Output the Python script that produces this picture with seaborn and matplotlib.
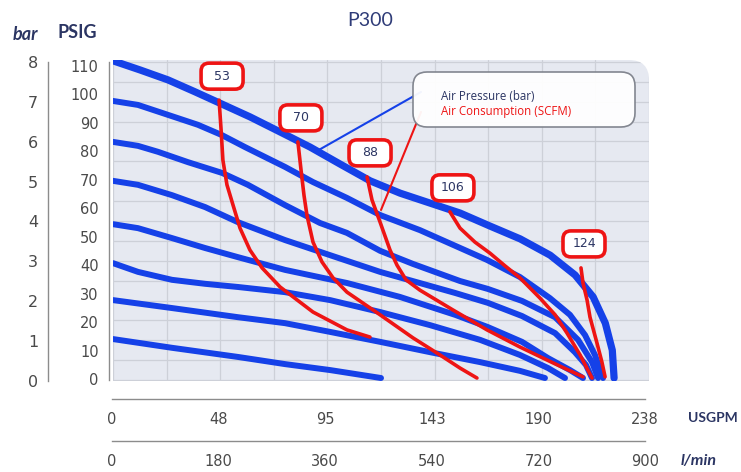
import matplotlib
matplotlib.use("Agg")
import numpy as np
import pandas as pd
import matplotlib.pyplot as plt
import seaborn as sns
from matplotlib.patches import FancyBboxPatch, PathPatch
from matplotlib.path import Path
from matplotlib.lines import Line2D
from matplotlib.transforms import IdentityTransform

# ---------------------------------------------------------------
# Pump curves: flow in USGPM, discharge pressure in bar
# ---------------------------------------------------------------
flow_8bar = [0, 12.0, 24.4, 36.4, 48.4, 60.8, 74.2, 87.5, 100.9, 114.2, 127.5,
             140.8, 154.1, 167.5, 180.8, 194.1, 205.2, 213.2, 218.6, 221.7, 222.5]
bar_8bar = [8.03, 7.80, 7.55, 7.25, 6.94, 6.62, 6.24, 5.86, 5.43, 5.01, 4.70,
            4.45, 4.20, 3.87, 3.55, 3.14, 2.64, 2.09, 1.43, 0.75, 0.05]

flow_7bar = [0, 11.1, 24.4, 37.7, 48.4, 58.6, 76.4, 88.8, 103.9, 118.6, 136.3,
             151.0, 166.1, 180.7, 194.0, 202.9, 209.6, 214.0, 217.6]
bar_7bar = [7.02, 6.92, 6.67, 6.42, 6.16, 5.86, 5.36, 4.98, 4.58, 4.15, 3.77,
            3.40, 3.02, 2.59, 2.06, 1.64, 1.13, 0.63, 0.05]

flow_6bar = [0, 11.1, 20.0, 33.3, 48.4, 59.9, 76.4, 91.9, 103.9, 118.6, 133.2,
             154.1, 166.5, 181.6, 196.3, 206.5, 212.7, 215.4]
bar_6bar = [5.99, 5.89, 5.74, 5.48, 5.21, 4.91, 4.40, 3.95, 3.70, 3.25, 2.92,
            2.49, 2.29, 1.99, 1.58, 1.01, 0.45, 0.05]

flow_5bar = [0, 11.1, 26.2, 40.9, 55.5, 76.4, 96.4, 118.6, 151.9, 166.5, 181.6,
             196.3, 205.1, 210.0, 212.7]
bar_5bar = [5.01, 4.91, 4.65, 4.35, 3.97, 3.52, 3.14, 2.72, 2.19, 1.94, 1.61,
            1.18, 0.70, 0.38, 0.05]

flow_4bar = [0, 11.1, 26.2, 40.9, 55.5, 76.4, 103.9, 127.4, 151.9, 166.5, 181.6,
             193.2, 202.9, 208.7]
bar_4bar = [3.92, 3.82, 3.57, 3.32, 3.09, 2.77, 2.44, 2.09, 1.64, 1.33, 0.96,
            0.55, 0.25, 0.05]

flow_3bar = [0, 11.1, 26.2, 40.9, 55.5, 76.4, 96.4, 118.6, 140.8, 163.0, 180.7,
             193.2, 200.7]
bar_3bar = [2.94, 2.72, 2.52, 2.42, 2.34, 2.21, 2.01, 1.71, 1.38, 1.01, 0.63,
            0.30, 0.05]

flow_2bar = [0, 26.2, 55.5, 76.4, 96.4, 118.6, 140.8, 163.0, 180.7, 191.8]
bar_2bar = [2.01, 1.81, 1.58, 1.43, 1.21, 0.96, 0.70, 0.45, 0.23, 0.05]

flow_1bar = [0, 26.2, 55.5, 76.4, 96.4, 119.0]
bar_1bar = [1.03, 0.81, 0.58, 0.40, 0.25, 0.05]

# Air consumption curves (SCFM)
flow_53 = [47.1, 48.0, 48.8, 50.6, 53.3, 56.4, 60.8, 66.2, 74.2, 88.8, 103.9, 114.1]
bar_53 = [7.04, 6.29, 5.53, 4.91, 4.40, 3.82, 3.27, 2.82, 2.34, 1.71, 1.26, 1.08]

flow_70 = [82.1, 83.5, 84.8, 86.1, 88.8, 92.8, 97.7, 103.9, 118.6, 133.2, 145.2,
           154.1, 161.6]
bar_70 = [5.99, 5.28, 4.65, 4.15, 3.47, 2.97, 2.57, 2.21, 1.64, 1.06, 0.63,
          0.30, 0.05]

flow_88 = [112.8, 115.0, 118.6, 123.0, 126.1, 130.1, 136.3, 151.0, 166.1, 180.7,
           195.4, 208.7]
bar_88 = [5.11, 4.53, 3.97, 3.27, 2.89, 2.52, 2.26, 1.76, 1.26, 0.83, 0.43, 0.08]

flow_106 = [149.6, 154.1, 160.7, 167.4, 174.1, 180.7, 189.6, 196.3, 201.6,
            207.4, 212.7]
bar_106 = [4.23, 3.82, 3.47, 3.19, 2.87, 2.57, 2.06, 1.64, 1.18, 0.63, 0.05]

flow_124 = [207.8, 208.7, 210.5, 211.8, 214.9, 217.1, 218.5]
bar_124 = [2.82, 2.44, 2.01, 1.58, 0.93, 0.45, 0.08]

# Axis scales
bar_ticks = [0, 1, 2, 3, 4, 5, 6, 7, 8]
psig_ticks = [0, 10, 20, 30, 40, 50, 60, 70, 80, 90, 100, 110]
gpm_ticks = [0, 47.6, 95.2, 142.8, 190.4, 238]
gpm_labels = ["0", "48", "95", "143", "190", "238"]
lpm_ticks = [0, 180, 360, 540, 720, 900]
lpm_labels = ["0", "180", "360", "540", "720", "900"]

pressure_series = {
    8: (flow_8bar, bar_8bar), 7: (flow_7bar, bar_7bar), 6: (flow_6bar, bar_6bar),
    5: (flow_5bar, bar_5bar), 4: (flow_4bar, bar_4bar), 3: (flow_3bar, bar_3bar),
    2: (flow_2bar, bar_2bar), 1: (flow_1bar, bar_1bar),
}
air_series = {
    53: (flow_53, bar_53), 70: (flow_70, bar_70), 88: (flow_88, bar_88),
    106: (flow_106, bar_106), 124: (flow_124, bar_124),
}

df_p = pd.DataFrame(
    [{"curve": k, "flow": q, "bar": p}
     for k, (qs, ps) in pressure_series.items() for q, p in zip(qs, ps)]
)
df_a = pd.DataFrame(
    [{"scfm": k, "flow": q, "bar": p}
     for k, (qs, ps) in air_series.items() for q, p in zip(qs, ps)]
)

# ---------------------------------------------------------------
# Style
# ---------------------------------------------------------------
sns.set_theme(style="white")
plt.rcParams["font.family"] = ["DejaVu Sans"]

BLUE = "#1541e8"
RED = "#ee1414"
NAVY = "#2b3563"
TICK_GRAY = "#4a4a4a"
SPINE_GRAY = "#8c8c8c"
PANEL = "#e6e9f1"
GRID = "#cdd0d8"

W, H = 741, 472
fig = plt.figure(figsize=(W / 100, H / 100), dpi=100)
fig.patch.set_facecolor("white")


def frame(left, top, right, bottom):
    """Axes rectangle from pixel edges measured from the top-left corner."""
    return [left / W, 1 - bottom / H, (right - left) / W, (bottom - top) / H]


# ---------------------------------------------------------------
# Main chart panel
# ---------------------------------------------------------------
ax = fig.add_axes(frame(113, 60, 649, 381))
ax.patch.set_visible(False)
for s in ax.spines.values():
    s.set_visible(False)

rx, ry = 20 / 536, 20 / 321
panel_path = Path(
    [(0, 0), (1, 0), (1, 1 - ry), (1, 1), (1 - rx, 1), (0, 1), (0, 0)],
    [Path.MOVETO, Path.LINETO, Path.LINETO, Path.CURVE3, Path.CURVE3,
     Path.LINETO, Path.CLOSEPOLY],
)
panel = PathPatch(panel_path, transform=ax.transAxes, fc=PANEL, ec="none", zorder=0)
ax.add_patch(panel)

line_kw = dict(estimator=None, sort=False, legend=False, ax=ax,
               solid_capstyle="round", solid_joinstyle="round")
sns.lineplot(data=df_p[df_p.curve != 8], x="flow", y="bar", units="curve",
             color=BLUE, linewidth=4.3, zorder=3, **line_kw)
sns.lineplot(data=df_p[df_p.curve == 8], x="flow", y="bar", units="curve",
             color=BLUE, linewidth=5.2, zorder=3, **line_kw)
sns.lineplot(data=df_a, x="flow", y="bar", units="scfm",
             color=RED, linewidth=2.6, zorder=4, **line_kw)

ax.set_xlim(0, 238)
ax.set_ylim(-0.025, 8.05)
ax.set_xticks(np.arange(0, 239, 23.8))
ax.set_yticks(np.arange(0, 8.01, 0.5))
ax.tick_params(length=0, labelbottom=False, labelleft=False)
ax.set_xlabel("")
ax.set_ylabel("")
ax.set_axisbelow(True)
ax.grid(True, color=GRID, linewidth=0.9)
for gl in ax.get_xgridlines() + ax.get_ygridlines():
    gl.set_clip_path(panel)

# Consumption value tags above each red curve
for scfm, (qs, ps) in air_series.items():
    dx, dy = ax.transData.transform((qs[0], ps[0]))
    cx, cy = dx + 3, dy + 24
    tag = FancyBboxPatch((cx - 21, cy - 13), 42, 26,
                         boxstyle="round,pad=0,rounding_size=8",
                         transform=IdentityTransform(), fc="white", ec=RED,
                         lw=2.6, zorder=5)
    fig.add_artist(tag)
    fig.text(cx, cy, str(scfm), transform=IdentityTransform(), ha="center",
             va="center", color=NAVY, fontsize=9, zorder=6)

# Legend box with pointer lines
leg = FancyBboxPatch((413, H - 127), 222, 55,
                     boxstyle="round,pad=0,rounding_size=14",
                     transform=IdentityTransform(), fc="white", ec="#7d818b",
                     lw=1.2, alpha=0.95, zorder=5)
fig.add_artist(leg)
fig.add_artist(Line2D([421, 317], [H - 92, H - 151], transform=IdentityTransform(),
                      color=BLUE, lw=1.5, zorder=4))
fig.add_artist(Line2D([421, 381], [H - 112, H - 210], transform=IdentityTransform(),
                      color=RED, lw=1.5, zorder=4))
fig.text(441, H - 96, "Air Pressure (bar)", transform=IdentityTransform(),
         ha="left", va="center", color=NAVY, fontsize=8.3,
         family=["Open Sans", "DejaVu Sans"], zorder=6)
fig.text(441, H - 111, "Air Consumption (SCFM)", transform=IdentityTransform(),
         ha="left", va="center", color=RED, fontsize=8.3,
         family=["Open Sans", "DejaVu Sans"], zorder=6)


def only_spine(a, side):
    a.patch.set_visible(False)
    for name, s in a.spines.items():
        s.set_visible(name == side)
        s.set_color(SPINE_GRAY)
        s.set_linewidth(1.0)


# ---------------------------------------------------------------
# Left scales: bar and PSIG
# ---------------------------------------------------------------
ax_bar = fig.add_axes(frame(48, 62.3, 49, 380.7))
only_spine(ax_bar, "left")
ax_bar.set_ylim(0, 8)
ax_bar.set_yticks(bar_ticks)
ax_bar.set_xticks([])
ax_bar.tick_params(axis="y", direction="out", length=4, width=1,
                   color=SPINE_GRAY, labelsize=11.5, labelcolor=TICK_GRAY, pad=3)

ax_psi = fig.add_axes(frame(109, 62, 110, 380))
only_spine(ax_psi, "left")
ax_psi.set_ylim(-0.35, 111.3)
ax_psi.set_yticks(psig_ticks)
ax_psi.set_xticks([])
ax_psi.tick_params(axis="y", direction="out", length=5.5, width=1,
                   color=SPINE_GRAY, labelsize=10.5, labelcolor=TICK_GRAY, pad=2)

fig.text(25, H - 34, "bar", ha="center", va="center", color=NAVY,
         fontsize=13, fontweight="bold", fontstyle="italic",
         family=["Lato", "DejaVu Sans"], transform=IdentityTransform())
fig.text(77, H - 33, "PSIG", ha="center", va="center", color=NAVY,
         fontsize=13, fontweight="bold", family=["Lato", "DejaVu Sans"],
         transform=IdentityTransform())

# ---------------------------------------------------------------
# Bottom scales: USGPM and l/min
# ---------------------------------------------------------------
ax_gpm = fig.add_axes(frame(112, 398, 645, 399))
only_spine(ax_gpm, "bottom")
ax_gpm.set_xlim(0, 238)
ax_gpm.set_yticks([])
ax_gpm.set_xticks(gpm_ticks)
ax_gpm.set_xticklabels(gpm_labels)
ax_gpm.set_xticks([23.8, 71.4, 119.0, 166.6, 214.2], minor=True)
ax_gpm.tick_params(axis="x", which="both", direction="out", length=5.5, width=1,
                   color=SPINE_GRAY, labelsize=10.5, labelcolor=TICK_GRAY, pad=3.5)

ax_lpm = fig.add_axes(frame(112, 440, 645, 441))
only_spine(ax_lpm, "bottom")
ax_lpm.set_xlim(0, 900)
ax_lpm.set_yticks([])
ax_lpm.set_xticks(lpm_ticks)
ax_lpm.set_xticklabels(lpm_labels)
ax_lpm.set_xticks([90, 270, 450, 630, 810], minor=True)
ax_lpm.tick_params(axis="x", which="both", direction="out", length=5.5, width=1,
                   color=SPINE_GRAY, labelsize=10.5, labelcolor=TICK_GRAY, pad=3.5)

fig.text(688, H - 418, "USGPM", ha="left", va="center", color=NAVY,
         fontsize=10, fontweight="bold", family=["Lato", "DejaVu Sans"],
         transform=IdentityTransform())
fig.text(681, H - 461, "l/min", ha="left", va="center", color=NAVY,
         fontsize=11.5, fontweight="bold", fontstyle="italic",
         family=["Lato", "DejaVu Sans"], transform=IdentityTransform())

# Title
fig.text(370, H - 20, "P300", ha="center", va="center", color="#2f3c78",
         fontsize=14, family=["Lato", "DejaVu Sans"], transform=IdentityTransform())

fig.savefig("out.png", dpi=100)
